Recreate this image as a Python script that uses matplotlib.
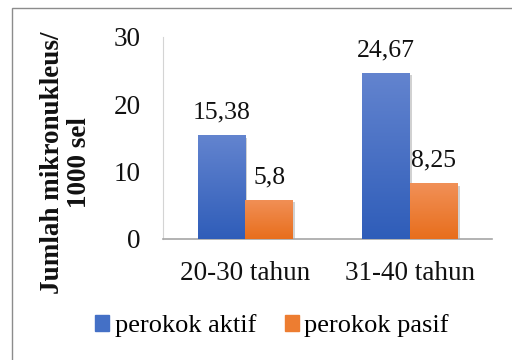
import numpy as np
import matplotlib
matplotlib.use("Agg")
import matplotlib.pyplot as plt
from matplotlib.colors import LinearSegmentedColormap
from matplotlib.patches import Rectangle
import matplotlib.patheffects as pe

plt.rcParams['font.family'] = ['Liberation Serif', 'DejaVu Serif']

categories = ['20-30 tahun', '31-40 tahun']
aktif = [15.38, 24.67]
pasif = [5.8, 8.25]
series_names = ['perokok aktif', 'perokok pasif']
value_labels_aktif = ['15,38', '24,67']
value_labels_pasif = ['5,8', '8,25']
y_ticks = [0, 10, 20, 30]

# gradient colours (top, bottom)
blue_grad = ('#6384cf', '#2f5db9')
orange_grad = ('#f19057', '#e86e1c')

fig = plt.figure(figsize=(5.12, 3.6), dpi=100)
ax = fig.add_axes([163 / 512, 1 - 239 / 360, 329 / 512, 202 / 360])

x = np.arange(len(categories))
w = 0.29

bars1 = ax.bar(x - w / 2, aktif, w, color=blue_grad[1], zorder=2)
bars2 = ax.bar(x + w / 2, pasif, w, color=orange_grad[1], zorder=2)

grad = np.linspace(0, 1, 256).reshape(-1, 1)


def fill_gradient(bars, cols):
    cmap = LinearSegmentedColormap.from_list('g', [cols[1], cols[0]])
    for b in bars:
        b.set_path_effects([pe.SimplePatchShadow(offset=(1.5, -1.5), alpha=0.18, shadow_rgbFace='black'), pe.Normal()])
        x0, y0 = b.get_x(), b.get_y()
        im = ax.imshow(grad, cmap=cmap, aspect='auto', origin='lower',
                       extent=[x0, x0 + b.get_width(), y0, y0 + b.get_height()], zorder=3)
        im.set_clip_path(b)


fill_gradient(bars1, blue_grad)
fill_gradient(bars2, orange_grad)

for xi, v, s in zip(x - w / 2, aktif, value_labels_aktif):
    ax.annotate(s, (xi, v), xytext=(0, 12), textcoords='offset points',
                ha='center', va='baseline', fontsize=18.5, color='#111111')
for xi, v, s in zip(x + w / 2, pasif, value_labels_pasif):
    ax.annotate(s, (xi, v), xytext=(0, 12), textcoords='offset points',
                ha='center', va='baseline', fontsize=18.5, color='#111111')

ax.set_xlim(-0.5, 1.5)
ax.set_ylim(0, 30)
ax.set_yticks(y_ticks)
ax.set_xticks(x)
ax.set_xticklabels(categories)
ax.tick_params(axis='both', length=0, labelsize=19.5, colors='#111111')
ax.tick_params(axis='y', pad=16)
ax.tick_params(axis='x', pad=16)

for s in ['top', 'right']:
    ax.spines[s].set_visible(False)
ax.spines['left'].set_color('#d4d4d4')
ax.spines['bottom'].set_color('#a6a6a6')
ax.spines['bottom'].set_linewidth(1.2)
ax.spines['left'].set_zorder(1)

fig.text(66 / 512, 1 - 163 / 360, 'Jumlah mikronukleus/\n1000 sel', rotation=90,
         ha='center', va='center', multialignment='center',
         fontsize=19.5, fontweight='bold', linespacing=1.12, color='#111111')

handles = [Rectangle((0, 0), 1, 1, color='#4470c6'), Rectangle((0, 0), 1, 1, color='#ed7d31')]
fig.legend(handles, series_names, loc='center', bbox_to_anchor=(272 / 512, 1 - 326 / 360),
           ncol=2, frameon=False, fontsize=19, handlelength=0.52, handleheight=0.52,
           handletextpad=0.22, columnspacing=1.1)

# chart frame
fig.add_artist(Rectangle((11.5 / 512, -0.1), 1.0, 1 - 7.5 / 360 + 0.1, transform=fig.transFigure,
                         fill=False, edgecolor='#8c8c8c', linewidth=1.0))

fig.savefig('out.png', dpi=100)
